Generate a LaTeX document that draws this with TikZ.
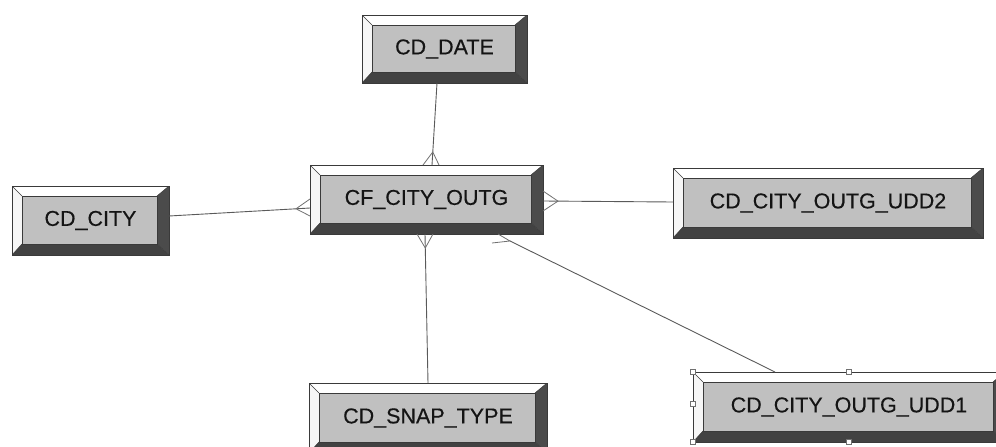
\documentclass[tikz,border=0pt]{standalone}
\usepackage{fontspec}
\setmainfont{Liberation Sans}[FakeBold=0.35]
\usetikzlibrary{calc}
\definecolor{facegray}{HTML}{C0C0C0}
\definecolor{darkbev}{HTML}{4B4B4B}
\definecolor{darkbevb}{HTML}{424242}
\definecolor{lightbev}{HTML}{F6F6F6}
\definecolor{edgegray}{HTML}{3A3A3A}
\definecolor{linegray}{HTML}{5A5A5A}
\definecolor{footgray}{HTML}{707070}
\tikzset{
  entity/.style={rectangle, draw=edgegray, line width=0.8pt, inner sep=0pt, outer sep=0pt,
    font=\fontsize{21.5}{24}\selectfont, text=black!92,
    path picture={
      \path (path picture bounding box.north west) coordinate (oa)
            (path picture bounding box.north east) coordinate (ob)
            (path picture bounding box.south east) coordinate (oc)
            (path picture bounding box.south west) coordinate (od);
      \path ([shift={(10pt,-10pt)}]oa) coordinate (ia)
            ([shift={(-12pt,-10pt)}]ob) coordinate (ib)
            ([shift={(-12pt,11pt)}]oc) coordinate (ic)
            ([shift={(10pt,11pt)}]od) coordinate (id);
      \fill[white] (oa) -- (ob) -- (ib) -- (ia) -- cycle;
      \fill[lightbev] (oa) -- (ia) -- (id) -- (od) -- cycle;
      \fill[darkbev] (ob) -- (oc) -- (ic) -- (ib) -- cycle;
      \fill[darkbevb] (od) -- (id) -- (ic) -- (oc) -- cycle;
      \filldraw[fill=facegray, draw=edgegray, line width=0.6pt] (ia) -- (ib) -- (ic) -- (id) -- cycle;
      \draw[edgegray, line width=0.5pt] (oa) -- (ia) (ob) -- (ib) (oc) -- (ic) (od) -- (id);
    }},
  conn/.style={draw=linegray, line width=0.9pt},
  foot/.style={draw=footgray, line width=0.8pt},
  handle/.style={rectangle, draw=footgray, fill=white, line width=0.6pt, minimum size=5pt, inner sep=0pt}
}
\begin{document}
\begin{tikzpicture}[x=1pt, y=-1pt]
\useasboundingbox (0,0) rectangle (996,447);
\clip (0,0) rectangle (996,447);

% entities (outer sizes)
\node[entity, minimum width=165pt, minimum height=68pt] (date) at (444.5,49) {CD\_DATE};
\node[entity, minimum width=233pt, minimum height=69pt] (cf) at (426.5,199.5) {CF\_CITY\_OUTG};
\node[entity, minimum width=157pt, minimum height=69pt] (city) at (90.5,220.5) {CD\_CITY};
\node[entity, minimum width=310pt, minimum height=70pt] (udd2) at (828,203) {CD\_CITY\_OUTG\_UDD2};
\node[entity, minimum width=238pt, minimum height=70pt] (snap) at (428,418) {CD\_SNAP\_TYPE};
\node[entity, minimum width=312pt, minimum height=70pt] (udd1) at (849,407) {CD\_CITY\_OUTG\_UDD1};

% CD_DATE -> CF
\coordinate (s1) at ([xshift=-7.5pt]date.south);
\coordinate (e1) at ([xshift=5.5pt]cf.north);
\coordinate (p1) at ($(e1)!13pt!(s1)$);
\draw[conn] (s1) -- (e1);
\draw[foot] ([xshift=-9pt]e1) -- (p1) -- ([xshift=7pt]e1);

% CD_CITY -> CF
\coordinate (s2) at ([yshift=4.5pt]city.east);
\coordinate (e2) at ([yshift=-8.5pt]cf.west);
\coordinate (p2) at ($(e2)!14pt!(s2)$);
\draw[conn] (s2) -- (e2);
\draw[foot] ([yshift=9pt]e2) -- (p2) -- ([yshift=-8pt]e2);

% UDD2 -> CF
\coordinate (s3) at ([yshift=1pt]udd2.west);
\coordinate (e3) at ([yshift=-1.5pt]cf.east);
\coordinate (p3) at ($(e3)!15pt!(s3)$);
\draw[conn] (s3) -- (e3);
\draw[foot] ([yshift=10pt]e3) -- (p3) -- ([yshift=-10pt]e3);

% SNAP -> CF
\coordinate (e4) at ([xshift=-1.5pt]cf.south);
\coordinate (p4) at ($(e4)!14pt!(snap.north)$);
\draw[conn] (snap.north) -- (e4);
\draw[foot] ([xshift=-8pt]e4) -- (p4) -- ([xshift=8pt]e4);

% UDD1 -> CF
\coordinate (s5) at ([xshift=-74pt]udd1.north);
\coordinate (p5) at ([xshift=-33pt,yshift=-7pt]cf.south east);
\coordinate (f5a) at ([xshift=-45pt]cf.south east);
\coordinate (f5b) at ([xshift=-51pt,yshift=-9pt]cf.south east);
\draw[conn] (s5) -- (p5);
\draw[foot] (f5a) -- (p5) -- (f5b);

% selection handles on UDD1
\node[handle] (h1) at (udd1.north west) {};
\node[handle] (h2) at (udd1.north) {};
\node[handle] (h3) at ([yshift=3pt]udd1.west) {};
\node[handle] (h4) at (udd1.south west) {};
\node[handle] (h5) at (udd1.south) {};
\end{tikzpicture}
\end{document}
